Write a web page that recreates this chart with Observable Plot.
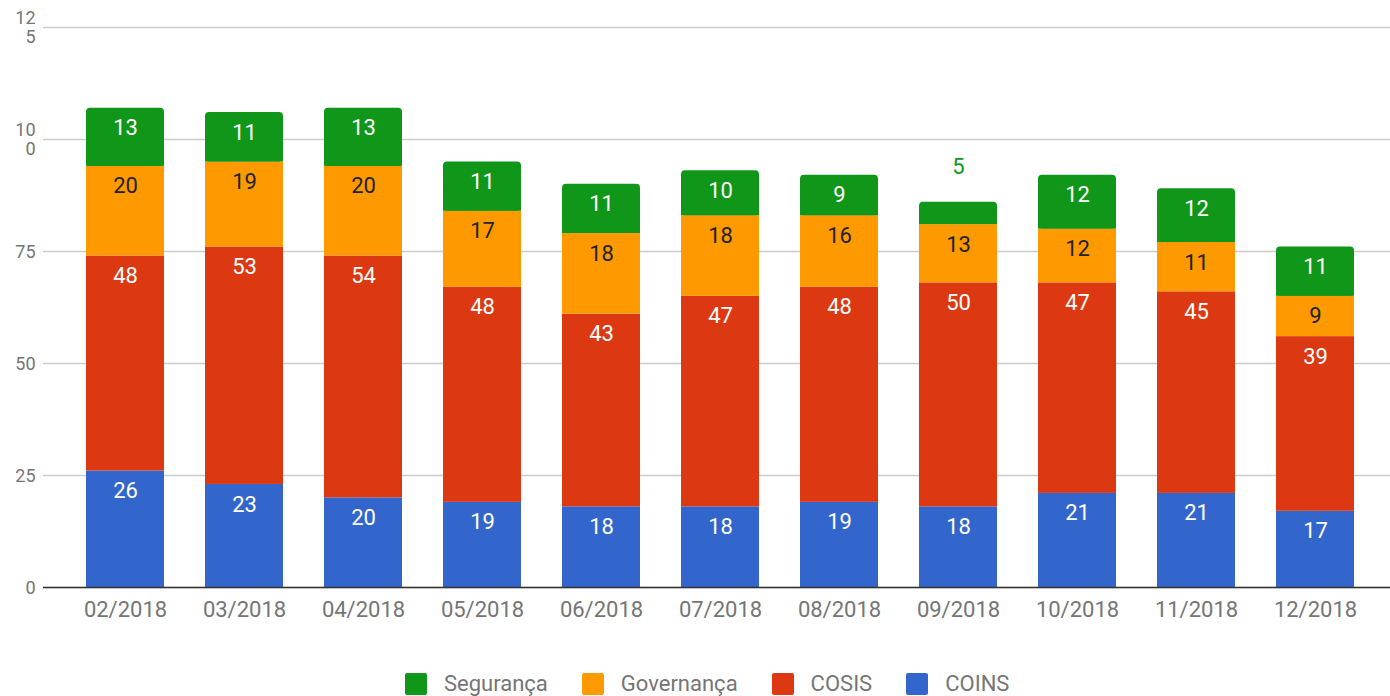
<!DOCTYPE html>
<html><head><meta charset="utf-8">
<script src="https://cdn.jsdelivr.net/npm/d3@7"></script>
<script src="https://cdn.jsdelivr.net/npm/@observablehq/plot@0.6"></script>
<style>
body{margin:0;background:#fff;font-family:Roboto,sans-serif;}
#chart{position:relative;width:1390px;height:696px;overflow:hidden;}
.legend{position:absolute;left:405px;top:673px;display:flex;align-items:center;font-size:22px;color:#757575;font-family:Roboto,sans-serif;}
.item{display:flex;align-items:center;margin-right:34px;line-height:22px;}
.sw{width:22px;height:22px;border-radius:2px;margin-right:17px;}
</style></head><body><div id="chart"></div>
<script>
const months = ["02/2018","03/2018","04/2018","05/2018","06/2018","07/2018","08/2018","09/2018","10/2018","11/2018","12/2018"];
const coins      = [26, 23, 20, 19, 18, 18, 19, 18, 21, 21, 17];
const cosis      = [48, 53, 54, 48, 43, 47, 48, 50, 47, 45, 39];
const governanca = [20, 19, 20, 17, 18, 18, 16, 13, 12, 11, 9];
const seguranca  = [13, 11, 13, 11, 11, 10, 9, 5, 12, 12, 11];
const seriesNames = ["COINS", "COSIS", "Governança", "Segurança"];
const seriesValues = [coins, cosis, governanca, seguranca];
const colors = ["#3366cc", "#dc3912", "#ff9900", "#109618"];
const labelColors = ["#ffffff", "#ffffff", "#222222", "#ffffff"];
const legendOrder = ["Segurança", "Governança", "COSIS", "COINS"];
const yTicks = [0, 25, 50, 75, 100, 125];
const yTickLabels = ["0", "25", "50", "75", "10\n0", "12\n5"];

const rows = [];
months.forEach((m, i) => {
  let base = 0;
  seriesValues.forEach((vals, s) => {
    const v = vals[i];
    rows.push({month: m, series: seriesNames[s], value: v, y1: base, y2: base + v, s, top: s === seriesValues.length - 1});
    base += v;
  });
});
const topRows = rows.filter(d => d.top);
const lowerRows = rows.filter(d => !d.top);
const inside = rows.filter(d => d.value >= 8);
const outside = rows.filter(d => d.value < 8);

const chart = Plot.plot({
  width: 1390,
  height: 640,
  marginLeft: 43,
  marginRight: 0,
  marginTop: 27,
  marginBottom: 53,
  style: {fontFamily: "Roboto, sans-serif", background: "white", overflow: "visible"},
  x: {domain: months, range: [44.5, 1396], padding: 0.348, label: null},
  y: {domain: [0, 125], label: null},
  color: {domain: seriesNames, range: colors},
  marks: [
    Plot.gridY(yTicks, {stroke: "#cccccc", strokeOpacity: 1, strokeWidth: 1.5}),
    Plot.axisY(yTicks, {tickSize: 0, tickPadding: 8, tickFormat: d => yTickLabels[yTicks.indexOf(d)], fontSize: 18, fill: "#757575", lineHeight: 1.05, label: null}),
    Plot.axisX({tickSize: 0, tickPadding: 14, fontSize: 22, fill: "#757575", label: null}),
    Plot.barY(lowerRows, {x: "month", y1: "y1", y2: "y2", fill: "series"}),
    Plot.barY(topRows, {x: "month", y1: "y1", y2: "y2", fill: "series", rx: 4}),
    Plot.barY(topRows, {x: "month", y1: "y1", y2: d => (d.y1 + d.y2) / 2, fill: "series"}),
    Plot.ruleY([0], {stroke: "#333333", strokeWidth: 1.5}),
    Plot.text(inside, {x: "month", y: "y2", text: d => String(d.value), dy: 20, fontSize: 22, fill: d => labelColors[d.s], lineAnchor: "middle"}),
    Plot.text(outside, {x: "month", y: "y2", text: d => String(d.value), dy: -35, fontSize: 22, fill: d => colors[d.s], lineAnchor: "middle"})
  ]
});
const root = document.getElementById("chart");
root.appendChild(chart);
const legend = document.createElement("div");
legend.className = "legend";
legendOrder.forEach(name => {
  const item = document.createElement("div");
  item.className = "item";
  const sw = document.createElement("span");
  sw.className = "sw";
  sw.style.background = colors[seriesNames.indexOf(name)];
  const t = document.createElement("span");
  t.textContent = name;
  item.appendChild(sw);
  item.appendChild(t);
  legend.appendChild(item);
});
root.appendChild(legend);
</script>
</body></html>
